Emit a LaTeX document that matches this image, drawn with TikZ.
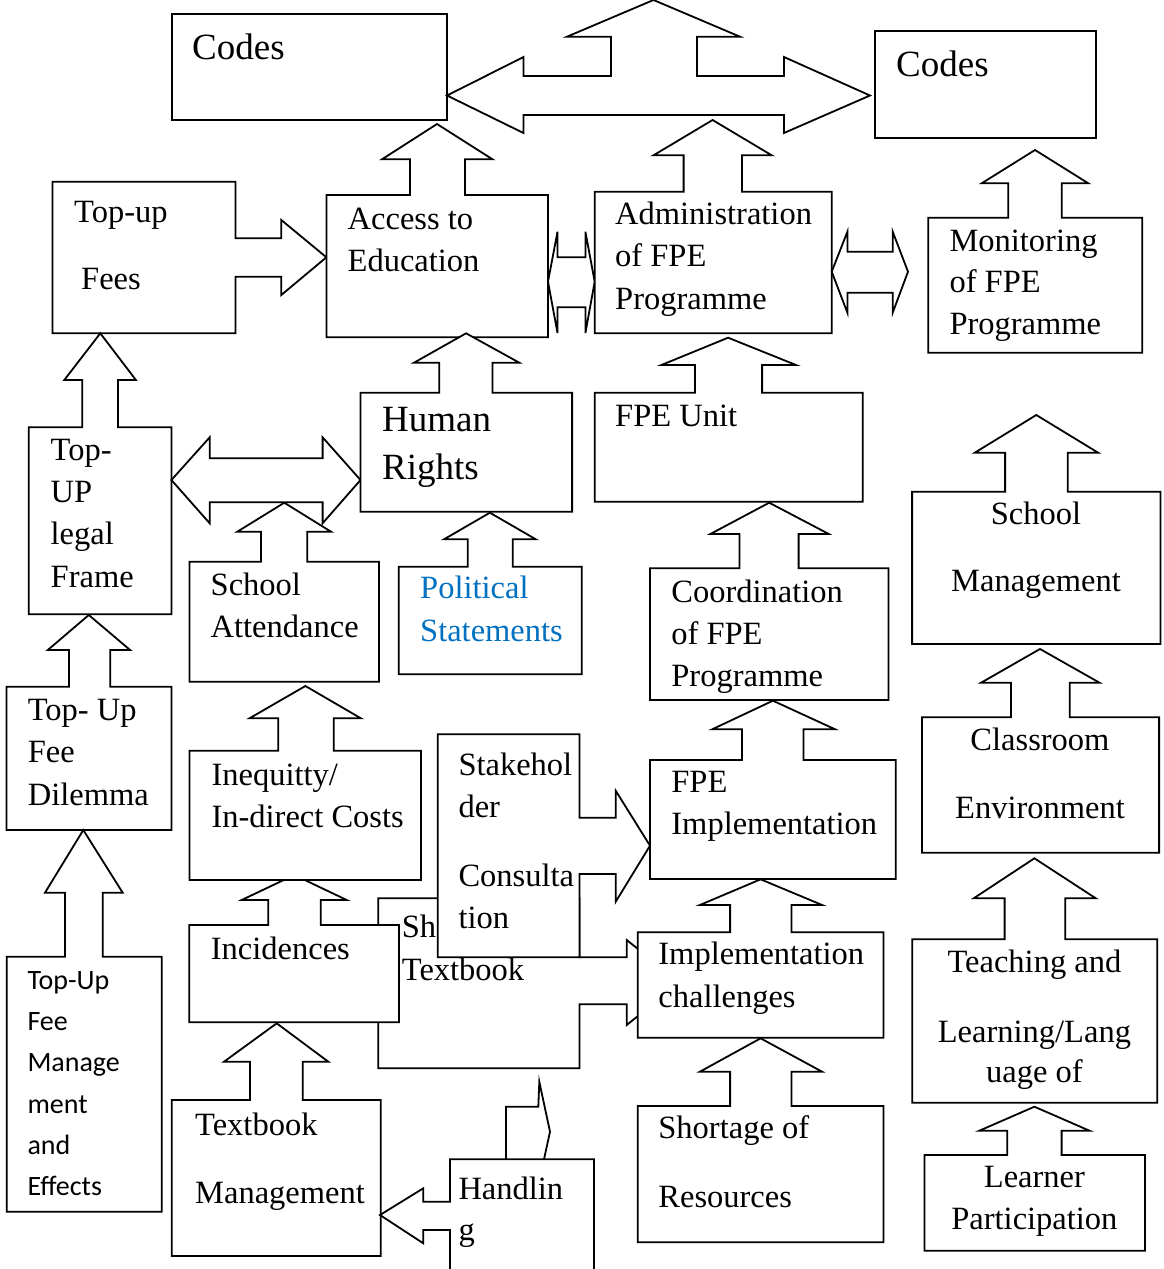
\documentclass[tikz,border=0pt]{standalone}
\usepackage{fontspec}
\setmainfont{Liberation Serif}
\newfontfamily\calib{Carlito}
\definecolor{polblue}{RGB}{0,112,192}
\tikzset{
 shp/.style={draw=black, fill=white, line width=1.8pt, line join=miter},
 txt/.style={inner sep=0pt, anchor=base west, font=\fontsize{32.5}{40}\selectfont},
 ctxt/.style={txt, anchor=base},
 big/.style={txt, font=\fontsize{37}{44}\selectfont},
 cal/.style={txt, font=\calib\fontsize{28}{34}\selectfont},
}
\begin{document}
\begin{tikzpicture}[x=1pt,y=-1pt]
\clip (0,0) rectangle (1164,1269);
\fill[white] (0,0) rectangle (1164,1269);

% Shortage of Textbook (behind others)
\draw[shp] (378.3,898.3) -- (579.5,898.3) -- (579.5,957.3) -- (626.7,957.3) -- (626.7,940) -- (680,982.5) -- (626.7,1025) -- (626.7,1004.3) -- (579.5,1004.3) -- (579.5,1068.3) -- (378.3,1068.3) -- cycle;
\node[txt] (stb1) at (401.7,937) {Shortage of};
\node[txt] (stb2) at (401.7,980) {Textbook};

% Codes boxes
\draw[shp] (172,14) rectangle (447,120);
\node[big] (codes1) at (192,59) {Codes};
\draw[shp] (875,31) rectangle (1096,138);
\node[big] (codes2) at (896,76) {Codes};

% three-way arrow
\draw[shp] (447,95.5) -- (523.5,57) -- (523.5,76) -- (611,76) -- (611,36.7) -- (567,36.7) -- (653.5,0) -- (740,36.7) -- (697,36.7) -- (697,76) -- (784,76) -- (784,57) -- (870,95.5) -- (784,133) -- (784,115) -- (523.5,115) -- (523.5,133) -- cycle;

% Top-up Fees
\draw[shp] (52.4,181.7) -- (235.4,181.7) -- (235.4,238.3) -- (281.3,238.3) -- (281.3,220) -- (326.4,257.3) -- (281.3,295) -- (281.3,276.7) -- (235.4,276.7) -- (235.4,333.3) -- (52.4,333.3) -- cycle;
\node[txt] (tuf1) at (74,222) {Top-up};
\node[txt] (tuf2) at (81,289) {Fees};

% Access to Education
\draw[shp] (326.4,195) -- (410,195) -- (410,159.3) -- (382,159.3) -- (437,124) -- (492.5,159.3) -- (465,159.3) -- (465,195) -- (548,195) -- (548,337.3) -- (326.4,337.3) -- cycle;
\node[txt] (acc1) at (347.5,229) {Access to};
\node[txt] (acc2) at (347.5,271) {Education};

% double arrow access-admin
\draw[shp] (548,281.7) -- (557.5,231.7) -- (557.5,257.3) -- (585.4,257.3) -- (585.4,231.7) -- (594.7,281.7) -- (585.4,333) -- (585.4,307.3) -- (557.5,307.3) -- (557.5,333) -- cycle;

% Administration
\draw[shp] (594.7,191.7) -- (683.6,191.7) -- (683.6,155.3) -- (653.5,155.3) -- (712.6,120) -- (771.7,155.3) -- (742,155.3) -- (742,191.7) -- (831.7,191.7) -- (831.7,333.3) -- (594.7,333.3) -- cycle;
\node[txt] (adm1) at (615,224) {Administration};
\node[txt] (adm2) at (615,266) {of FPE};
\node[txt] (adm3) at (615,309) {Programme};

% double arrow admin-monitoring
\draw[shp] (831.7,271.7) -- (847.4,231.7) -- (847.4,251.7) -- (892.7,251.7) -- (892.7,231.7) -- (908,271.7) -- (892.7,312.7) -- (892.7,292.7) -- (847.4,292.7) -- (847.4,312.7) -- cycle;

% Monitoring
\draw[shp] (928.3,217.7) -- (1008.3,217.7) -- (1008.3,183.3) -- (981.7,183.3) -- (1035,150) -- (1088.3,183.3) -- (1061.7,183.3) -- (1061.7,217.7) -- (1142.2,217.7) -- (1142.2,352.7) -- (928.3,352.7) -- cycle;
\node[txt] (mon1) at (949.3,251) {Monitoring};
\node[txt] (mon2) at (949.3,292) {of FPE};
\node[txt] (mon3) at (949.3,334) {Programme};

% Top-UP legal Frame
\draw[shp] (28.7,427.3) -- (82.3,427.3) -- (82.3,380) -- (64.3,380) -- (100.3,333.3) -- (135.9,380) -- (117.9,380) -- (117.9,427.3) -- (171.4,427.3) -- (171.4,614.3) -- (28.7,614.3) -- cycle;
\node[txt] (leg1) at (50.5,460) {Top-};
\node[txt] (leg2) at (50.5,502) {UP};
\node[txt] (leg3) at (50.5,544) {legal};
\node[txt] (leg4) at (50.5,587) {Frame};

% School Attendance
\draw[shp] (189.4,561.7) -- (261,561.7) -- (261,531.7) -- (237.3,531.7) -- (284.3,502.7) -- (331,531.7) -- (307.3,531.7) -- (307.3,561.7) -- (378.9,561.7) -- (378.9,681.7) -- (189.4,681.7) -- cycle;
\node[txt] (att1) at (210.5,595) {School};
\node[txt] (att2) at (210.5,637) {Attendance};

% double arrow legal-human
\draw[shp] (171.4,480) -- (209.7,437.3) -- (209.7,458.3) -- (322.6,458.3) -- (322.6,437.3) -- (360.5,480) -- (322.6,523.3) -- (322.6,502.3) -- (209.7,502.3) -- (209.7,523.3) -- cycle;

% Human Rights
\draw[shp] (360.5,392.7) -- (439.3,392.7) -- (439.3,362.7) -- (414,362.7) -- (466.1,333.3) -- (519.3,362.7) -- (492.5,362.7) -- (492.5,392.7) -- (572.1,392.7) -- (572.1,511.7) -- (360.5,511.7) -- cycle;
\node[big] (hum1) at (382,431) {Human};
\node[big] (hum2) at (382,479) {Rights};

% Political Statements
\draw[shp] (398.8,566.7) -- (467.7,566.7) -- (467.7,539.3) -- (444,539.3) -- (489.9,512.7) -- (535.8,539.3) -- (512.8,539.3) -- (512.8,566.7) -- (581.7,566.7) -- (581.7,674.3) -- (398.8,674.3) -- cycle;
\node[txt, text=polblue] (pol1) at (420,598) {Political};
\node[txt, text=polblue] (pol2) at (420,641) {Statements};

% Top- Up Fee Dilemma
\draw[shp] (6.5,686.7) -- (68.9,686.7) -- (68.9,650) -- (47.8,650) -- (88.8,615) -- (130.1,650) -- (110.2,650) -- (110.2,686.7) -- (171.4,686.7) -- (171.4,830) -- (6.5,830) -- cycle;
\node[txt] (dil1) at (27.6,720) {Top- Up};
\node[txt] (dil2) at (27.6,762) {Fee};
\node[txt] (dil3) at (27.6,805) {Dilemma};

% Incidences
\draw[shp] (189.3,925) -- (268.3,925) -- (268.3,900) -- (241.7,900) -- (294.3,875) -- (346.7,900) -- (320.7,900) -- (320.7,925) -- (399,925) -- (399,1022.3) -- (189.3,1022.3) -- cycle;
\node[txt] (inc1) at (210.7,959) {Incidences};

% Inequitty
\draw[shp] (189.4,750.7) -- (278.2,750.7) -- (278.2,718.3) -- (249.5,718.3) -- (305.4,686) -- (360.9,718.3) -- (333.7,718.3) -- (333.7,750.7) -- (421,750.7) -- (421,880) -- (189.4,880) -- cycle;
\node[txt] (ineq1) at (211.3,785) {Inequitty/};
\node[txt] (ineq2) at (211.3,827) {In-direct Costs};

% Textbook Management
\draw[shp] (171.7,1100) -- (250,1100) -- (250,1061.7) -- (224,1061.7) -- (276.7,1023.3) -- (328.3,1061.7) -- (302.7,1061.7) -- (302.7,1100) -- (380.7,1100) -- (380.7,1256) -- (171.7,1256) -- cycle;
\node[txt] (tbm1) at (195,1135) {Textbook};
\node[txt] (tbm2) at (195,1203) {Management};

% Handling
\draw[shp] (450,1159.3) -- (594,1159.3) -- (594,1290) -- (450,1290) -- (450,1230) -- (423.3,1230) -- (423.3,1243.3) -- (380,1215) -- (423.3,1188.3) -- (423.3,1201.7) -- (450,1201.7) -- cycle;
\draw[shp, fill=none] (506,1159.3) -- (506,1106.7) -- (538.3,1106.7) -- (539.3,1081.7) -- (550,1131.7) -- (544,1159.3);
\node[txt] (han1) at (458.3,1199) {Handlin};
\node[txt] (han2) at (458.3,1240) {g};

% Top-Up Fee Management and Effects
\draw[shp] (6.7,956.7) -- (65,956.7) -- (65,892.7) -- (45,892.7) -- (83.3,830) -- (122.7,892.7) -- (102.7,892.7) -- (102.7,956.7) -- (161.7,956.7) -- (161.7,1211.7) -- (6.7,1211.7) -- cycle;
\node[cal] (fm1) at (27.3,989) {Top-Up};
\node[cal] (fm2) at (27.3,1030) {Fee};
\node[cal] (fm3) at (27.3,1071) {Manage};
\node[cal] (fm4) at (27.3,1113) {ment};
\node[cal] (fm5) at (27.3,1154) {and};
\node[cal] (fm6) at (27.3,1195) {Effects};

% FPE Unit
\draw[shp] (594.7,392.7) -- (695,392.7) -- (695,365) -- (661.4,365) -- (728.1,337.7) -- (796,365) -- (762.1,365) -- (762.1,392.7) -- (862.8,392.7) -- (862.8,501.7) -- (594.7,501.7) -- cycle;
\node[txt] (unit1) at (615,426) {FPE Unit};

% Coordination
\draw[shp] (650,568.3) -- (739.4,568.3) -- (739.4,534) -- (710.4,534) -- (769.2,502.7) -- (828.8,534) -- (798.6,534) -- (798.6,568.3) -- (888.4,568.3) -- (888.4,700) -- (650,700) -- cycle;
\node[txt] (coo1) at (671.2,602) {Coordination};
\node[txt] (coo2) at (671.2,644) {of FPE};
\node[txt] (coo3) at (671.2,686) {Programme};

% FPE Implementation
\draw[shp] (650,760) -- (742,760) -- (742,729.3) -- (712.2,729.3) -- (772.9,700.7) -- (835.1,729.3) -- (803.5,729.3) -- (803.5,760) -- (895.8,760) -- (895.8,879) -- (650,879) -- cycle;
\node[txt] (imp1) at (671.2,792) {FPE};
\node[txt] (imp2) at (671.2,834) {Implementation};

% Stakeholder Consultation
\draw[shp] (437.7,734.3) -- (579.5,734.3) -- (579.5,817.7) -- (615.7,817.7) -- (615.7,790.7) -- (650,845.7) -- (615.7,901.7) -- (615.7,874) -- (579.5,874) -- (579.5,957.3) -- (437.7,957.3) -- cycle;
\node[txt] (stk1) at (458.3,775) {Stakehol};
\node[txt] (stk2) at (458.3,817) {der};
\node[txt] (stk3) at (458.3,886) {Consulta};
\node[txt] (stk4) at (458.3,928) {tion};

% Implementation challenges
\draw[shp] (637.7,932.3) -- (730.1,932.3) -- (730.1,905) -- (699.9,905) -- (760.6,879.3) -- (822.1,905) -- (791.5,905) -- (791.5,932.3) -- (883.5,932.3) -- (883.5,1037.7) -- (637.7,1037.7) -- cycle;
\node[txt] (chal1) at (658.2,964) {Implementation};
\node[txt] (chal2) at (658.2,1007) {challenges};

% Shortage of Resources
\draw[shp] (637.7,1106) -- (730.1,1106) -- (730.1,1071.7) -- (699.9,1071.7) -- (760.6,1038.3) -- (822.1,1071.7) -- (791.5,1071.7) -- (791.5,1106) -- (883.5,1106) -- (883.5,1242.3) -- (637.7,1242.3) -- cycle;
\node[txt] (res1) at (658.2,1138) {Shortage of};
\node[txt] (res2) at (658.2,1207) {Resources};

% School Management
\draw[shp] (912.1,491.7) -- (1005.1,491.7) -- (1005.1,452.7) -- (974.8,452.7) -- (1036.3,415) -- (1098.1,452.7) -- (1067.8,452.7) -- (1067.8,491.7) -- (1160.5,491.7) -- (1160.5,644) -- (912.1,644) -- cycle;
\node[ctxt] (sm1) at (1036,524) {School};
\node[ctxt] (sm2) at (1036,591) {Management};

% Classroom Environment
\draw[shp] (921.9,717.3) -- (1010.9,717.3) -- (1010.9,682.7) -- (981.1,682.7) -- (1040,649) -- (1099.5,682.7) -- (1069.8,682.7) -- (1069.8,717.3) -- (1159.1,717.3) -- (1159.1,852.7) -- (921.9,852.7) -- cycle;
\node[ctxt] (cr1) at (1040,750) {Classroom};
\node[ctxt] (cr2) at (1040,818) {Environment};

% Teaching and Learning
\draw[shp] (912.2,939.3) -- (1004.6,939.3) -- (1004.6,898.3) -- (973.7,898.3) -- (1034.4,858.3) -- (1095.8,898.3) -- (1065.3,898.3) -- (1065.3,939.3) -- (1157.3,939.3) -- (1157.3,1102.7) -- (912.2,1102.7) -- cycle;
\node[ctxt] (tl1) at (1034.4,972) {Teaching and};
\node[ctxt] (tl2) at (1034.4,1042) {Learning/Lang};
\node[ctxt] (tl3) at (1034.4,1082) {uage of};

% Learner Participation
\draw[shp] (924.5,1155) -- (1007.2,1155) -- (1007.2,1130.7) -- (979.3,1130.7) -- (1034.4,1106.7) -- (1089.5,1130.7) -- (1061.6,1130.7) -- (1061.6,1155) -- (1145,1155) -- (1145,1250.7) -- (924.5,1250.7) -- cycle;
\node[ctxt] (lp1) at (1034.4,1187) {Learner};
\node[ctxt] (lp2) at (1034.4,1229) {Participation};
\end{tikzpicture}
\end{document}
